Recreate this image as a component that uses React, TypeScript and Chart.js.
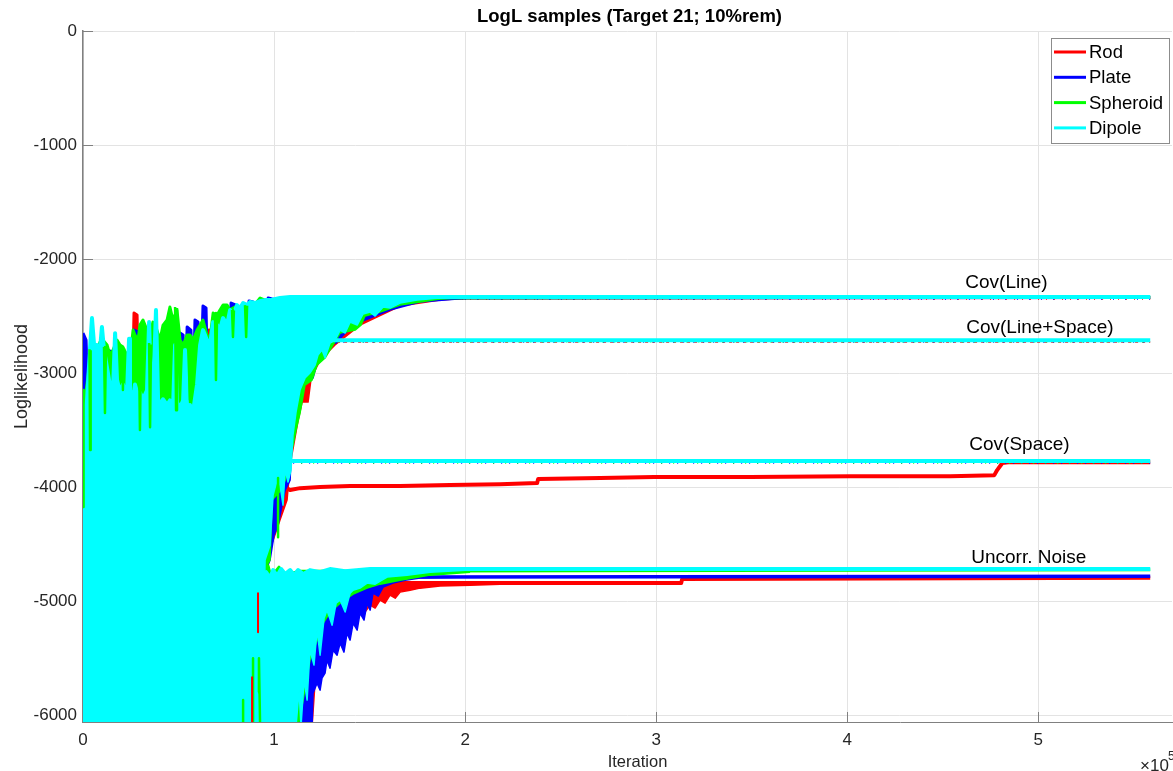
import React, { useEffect, useRef } from 'react';
import { Chart, registerables } from 'chart.js';

Chart.register(...registerables);

// x values are iterations in units of 1e5, y values are log-likelihood
const FONT = "'Liberation Sans', Arial, Helvetica, sans-serif";
const ROD = '#ff0000';
const PLATE = '#0000ff';
const SPHEROID = '#00ff00';
const DIPOLE = '#00ffff';

const legendLabels = ['Rod', 'Plate', 'Spheroid', 'Dipole'];
const xTickValues = [0, 1, 2, 3, 4, 5];
const yTickValues = [-6000, -5000, -4000, -3000, -2000, -1000, 0];
const modelLabels = ['Cov(Line)', 'Cov(Line+Space)', 'Cov(Space)', 'Uncorr. Noise'];
const modelLabelX = [4.618, 4.623, 4.639, 4.649];
const modelLabelY = [-2211, -2605, -3632, -4623];

// ---------- Dipole (cyan) ----------
const dipoleMainX = [0, 0.021, 0.037, 0.047, 0.058, 0.073, 0.089, 0.099, 0.110, 0.141, 0.157, 0.168, 0.178, 0.194, 0.209, 0.230, 0.241, 0.246, 0.262, 0.272, 0.288, 0.298, 0.314, 0.335, 0.346, 0.356, 0.366, 0.382, 0.393, 0.403, 0.419, 0.440, 0.455, 0.471, 0.482, 0.492, 0.508, 0.524, 0.534, 0.545, 0.560, 0.576, 0.597, 0.613, 0.628, 0.649, 0.665, 0.681, 0.702, 0.717, 0.733, 0.754, 0.770, 0.785, 0.806, 0.822, 0.838, 0.859, 0.874, 0.901, 0.927, 0.953, 0.979, 1.031, 1.084, 5.586];
const dipoleMainY = [-3412, -3237, -2781, -2518, -2754, -2754, -2798, -2596, -2798, -3105, -3150, -2650, -3060, -3170, -3100, -3200, -2700, -3150, -3230, -3100, -3200, -3170, -3230, -3150, -2553, -3170, -3240, -2447, -3230, -3280, -3230, -3280, -3240, -3320, -2754, -3260, -3300, -3240, -2798, -3320, -3280, -3340, -3100, -2754, -2623, -2711, -2754, -2553, -2579, -2623, -2518, -2579, -2447, -2500, -2404, -2430, -2386, -2404, -2377, -2386, -2368, -2360, -2360, -2342, -2333, -2333];
const dipoleMainLowX = [0, 0.937, 0.953, 0.979, 0.995, 1.016, 1.031, 1.047, 1.058, 1.073, 1.089, 1.099, 1.115, 1.136, 1.162, 1.188, 1.215, 1.230, 1.251, 1.267, 1.293, 1.319, 1.346, 1.372, 1.398, 1.435, 1.466, 1.503, 1.529, 1.571, 1.607, 1.660, 1.749, 1.869, 2.026];
const dipoleMainLowY = [-6100, -6100, -4640, -4509, -4070, -3939, -3982, -4158, -3851, -3956, -3851, -3544, -3342, -3149, -3044, -3000, -2930, -2842, -2798, -2868, -2737, -2711, -2623, -2649, -2553, -2579, -2482, -2465, -2500, -2421, -2430, -2386, -2360, -2342, -2333];
const dipoleNoiseX = [0.937, 0.958, 0.979, 0.995, 1.016, 1.037, 1.058, 1.084, 1.105, 1.126, 1.152, 1.188, 1.241, 1.293, 1.372, 1.503, 5.586];
const dipoleNoiseY = [-4772, -4746, -4798, -4728, -4781, -4719, -4763, -4728, -4772, -4728, -4763, -4728, -4746, -4719, -4737, -4719, -4719];
const dipoleNoiseLowX = [0.937, 1.115, 1.131, 1.141, 1.157, 1.173, 1.188, 1.209, 1.225, 1.241, 1.262, 1.277, 1.304, 1.325, 1.346, 1.372, 1.398, 1.414, 1.450, 1.487, 1.529, 1.592, 1.696, 1.817, 2.026];
const dipoleNoiseLowY = [-6100, -6100, -5781, -6100, -5693, -5868, -5430, -5561, -5254, -5474, -5149, -5079, -5211, -5018, -4991, -5096, -4930, -4904, -4886, -4842, -4851, -4789, -4772, -4746, -4728];
const dipoleLineSpaceX = [1.300, 5.586];
const dipoleLineSpaceY = [-2711, -2711];
const dipoleSpaceX = [1.094, 5.586];
const dipoleSpaceY = [-3772, -3772];

// ---------- Spheroid (green) ----------
const spheroidMainX = [0, 0.010, 0.037, 0.063, 0.089, 0.105, 0.126, 0.141, 0.157, 0.178, 0.194, 0.209, 0.230, 0.246, 0.262, 0.272, 0.288, 0.298, 0.314, 0.335, 0.351, 0.366, 0.387, 0.403, 0.419, 0.440, 0.455, 0.471, 0.492, 0.508, 0.524, 0.545, 0.560, 0.576, 0.597, 0.613, 0.628, 0.649, 0.665, 0.681, 0.702, 0.717, 0.733, 0.754, 0.770, 0.785, 0.806, 0.822, 0.848, 0.874, 0.901, 0.927, 0.953, 0.979, 1.031, 1.084, 5.586];
const spheroidMainY = [-3149, -3237, -2886, -2842, -2728, -2711, -2754, -2842, -2798, -2711, -2754, -2772, -2842, -2868, -2623, -2667, -2711, -2579, -2535, -2623, -2667, -2553, -2623, -2711, -2579, -2535, -2421, -2535, -2447, -2711, -2754, -2667, -2667, -2711, -2623, -2579, -2535, -2667, -2693, -2474, -2491, -2447, -2404, -2404, -2447, -2430, -2412, -2439, -2412, -2395, -2395, -2342, -2360, -2377, -2351, -2342, -2336];
const spheroidMainLowX = [0, 0.937, 0.948, 0.979, 0.990, 1.037, 1.058, 1.094, 1.115, 1.136, 1.162, 1.199, 1.225, 1.267, 1.346, 1.424, 1.455, 1.476, 1.555, 1.660, 1.869, 2.026];
const spheroidMainLowY = [-6100, -6100, -4728, -4640, -4114, -4026, -3939, -3675, -3500, -3351, -3105, -3061, -2930, -2868, -2649, -2623, -2579, -2500, -2465, -2404, -2351, -2333];
const spheroidNoiseX = [0.937, 0.969, 0.984, 1.026, 1.047, 1.136, 5.586];
const spheroidNoiseY = [-4781, -4693, -4789, -4702, -4772, -4737, -4725];
const spheroidNoiseLowX = [0.937, 1.126, 1.152, 1.188, 1.225, 1.251, 1.293, 1.346, 1.414, 1.487, 1.555, 1.660, 1.817, 2.026];
const spheroidNoiseLowY = [-6100, -6100, -5868, -5518, -5342, -5211, -5096, -5018, -4939, -4886, -4851, -4816, -4772, -4746];
const spheroidLineSpaceX = [1.310, 5.586];
const spheroidLineSpaceY = [-2726, -2726];
const spheroidSpaceX = [1.100, 5.586];
const spheroidSpaceY = [-3788, -3788];
const spheroidStreakX = [0.003, 0.003, 0.003, 0.034, 0.037, 0.040, 0.040, 0.110, 0.115, 0.120, 0.120, 0.205, 0.209, 0.214, 0.214, 0.293, 0.298, 0.304, 0.304, 0.346, 0.351, 0.356, 0.356, 0.408, 0.414, 0.419, 0.419, 0.482, 0.487, 0.492, 0.492, 0.555, 0.560, 0.565, 0.565, 0.691, 0.696, 0.702, 0.702, 0.780, 0.785, 0.790, 0.790, 0.848, 0.854, 0.859, 0.859, 0.838, 0.838, 0.838, 0.890, 0.890, 0.890, 0.916, 0.921, 0.927, 0.927, 1.021, 1.021];
const spheroidStreakY = [-3149, -4175, null, -2790, -3675, -2800, null, -2772, -3351, -2800, null, -2772, -3149, -2780, null, -2772, -3500, -2790, null, -2737, -3474, -2750, null, -2798, -3061, -2800, null, -2421, -3325, -2430, null, -2711, -3237, -2720, null, -2474, -3061, -2480, null, -2447, -2684, -2450, null, -2404, -2684, -2410, null, -5868, -6100, null, -5500, -6100, null, -5800, -5500, -6100, null, -3921, -4439];

// ---------- Plate (blue) ----------
const plateMainX = [0, 0.016, 0.026, 0.120, 0.131, 0.152, 0.162, 0.225, 0.236, 0.251, 0.262, 0.267, 0.293, 0.304, 0.497, 0.508, 0.524, 0.534, 0.545, 0.565, 0.576, 0.586, 0.602, 0.613, 0.628, 0.644, 0.654, 0.764, 0.775, 0.801, 0.812, 0.859, 0.869, 0.890, 0.901, 0.958, 0.969, 0.990, 1.031, 1.084, 5.586];
const plateMainY = [-2649, -2711, -3237, -3237, -2798, -2816, -3237, -3237, -2816, -2842, -3237, -2623, -2640, -3237, -3237, -2649, -2667, -3237, -2596, -2623, -3237, -2535, -2553, -3237, -2412, -2430, -3237, -3237, -2386, -2404, -3237, -3237, -2368, -2377, -3237, -3237, -2342, -2351, -2360, -2342, -2338];
const plateMainLowX = [0, 0.937, 0.948, 0.979, 1.000, 1.021, 1.058, 1.084, 1.094, 1.110, 1.126, 1.162, 1.204, 1.225, 1.293, 1.314, 1.325, 1.372, 1.450, 1.607, 1.764, 2.026];
const plateMainLowY = [-6100, -6100, -4772, -4640, -4421, -4333, -4026, -3939, -3544, -3500, -3193, -3061, -3044, -2912, -2754, -2737, -2737, -2649, -2553, -2447, -2377, -2342];
const plateNoiseX = [0.937, 1.764, 5.586];
const plateNoiseY = [-4816, -4789, -4781];
const plateNoiseLowX = [0.937, 1.199, 1.204, 1.225, 1.241, 1.251, 1.267, 1.277, 1.293, 1.309, 1.330, 1.346, 1.366, 1.382, 1.398, 1.414, 1.435, 1.450, 1.471, 1.487, 1.503, 1.518, 1.545, 1.571, 1.623, 1.686, 1.764, 2.026];
const plateNoiseLowY = [-6100, -6100, -5807, -5719, -5781, -5675, -5632, -5518, -5588, -5430, -5474, -5368, -5447, -5281, -5342, -5193, -5254, -5105, -5167, -5018, -5079, -4930, -4956, -4877, -4842, -4816, -4798, -4789];
const plateLineX = [1.900, 5.586];
const plateLineY = [-2350, -2350];
const plateLineSpaceX = [1.325, 5.586];
const plateLineSpaceY = [-2728, -2728];
const plateSpaceX = [1.100, 5.586];
const plateSpaceY = [-3789, -3789];

// ---------- Rod (red) ----------
const rodMainX = [0, 0.010, 0.026, 0.157, 0.168, 0.183, 0.257, 0.267, 0.283, 0.293, 0.649, 0.660, 0.675, 0.686, 0.874, 0.953, 1.031, 1.084, 5.586];
const rodMainY = [-3237, -2974, -3237, -3237, -2711, -3237, -3237, -2474, -2491, -3237, -3237, -2623, -2640, -3237, -2711, -2535, -2360, -2342, -2338];
const rodMainLowX = [0, 0.937, 0.942, 1.031, 1.068, 1.084, 1.126, 1.147, 1.178, 1.194, 1.241, 1.319, 1.450, 1.660, 1.869, 2.026];
const rodMainLowY = [-6100, -6100, -4728, -4289, -4114, -3807, -3412, -3254, -3254, -3044, -2886, -2754, -2579, -2412, -2360, -2342];
const rodNoiseX = [0.937, 1.660, 3.131, 3.136, 5.586];
const rodNoiseY = [-4833, -4842, -4842, -4807, -4795];
const rodNoiseLowX = [0.937, 1.199, 1.215, 1.251, 1.293, 1.346, 1.398, 1.450, 1.476, 1.503, 1.529, 1.555, 1.581, 1.607, 1.634, 1.660, 1.712, 1.764, 1.869, 2.026, 2.183];
const rodNoiseLowY = [-6100, -6100, -5700, -5600, -5450, -5300, -5250, -5050, -5096, -5035, -5061, -4991, -5018, -4947, -4974, -4921, -4904, -4886, -4868, -4860, -4851];
const rodSpaceX = [1.058, 1.068, 1.084, 1.136, 1.241, 1.398, 1.660, 1.921, 2.183, 2.377, 2.382, 2.707, 2.990, 3.492, 4.016, 4.539, 4.770, 4.785, 4.812, 4.853, 5.586];
const rodSpaceY = [-4053, -4009, -4026, -4009, -4000, -3991, -3991, -3982, -3974, -3965, -3930, -3921, -3912, -3912, -3904, -3904, -3895, -3851, -3789, -3781, -3781];
const rodLineX = [1.900, 5.586];
const rodLineY = [-2351, -2351];
const rodLineSpaceX = [1.330, 5.586];
const rodLineSpaceY = [-2728, -2728];
const rodStreakX = [0.916, 0.916, 0.916, 0.885, 0.885];
const rodStreakY = [-4930, -5272, null, -5667, -6100];

function pts(xs: number[], ys: (number | null)[]) {
  return xs.map((x, i) => ({ x, y: ys[i] }));
}

export default function App() {
  const ref = useRef<HTMLCanvasElement>(null);

  useEffect(() => {
    document.body.style.margin = '0';
    const canvas = ref.current!;
    const datasets: any[] = [];
    const add = (d: any) => {
      datasets.push(d);
      return datasets.length - 1;
    };
    const line = (data: any, color: string, width: number, extra: any = {}) => ({
      data,
      borderColor: color,
      backgroundColor: color,
      borderWidth: width,
      pointRadius: 0,
      pointHoverRadius: 0,
      fill: false,
      tension: 0,
      spanGaps: false,
      borderJoinStyle: 'round',
      borderCapStyle: 'butt',
      ...extra,
    });
    const mass = (tx: number[], ty: number[], lx: number[], ly: number[], color: string, w: number) => {
      const low = add(line(pts(lx, ly), color, 1.5));
      add(line(pts(tx, ty), color, w, { fill: { target: low } }));
    };

    // bottom -> top
    mass(rodMainX, rodMainY, rodMainLowX, rodMainLowY, ROD, 3);
    mass(rodNoiseX, rodNoiseY, rodNoiseLowX, rodNoiseLowY, ROD, 4);
    add(line(pts(rodSpaceX, rodSpaceY), ROD, 4));
    add(line(pts(rodLineX, rodLineY), ROD, 1.5, { borderDash: [1, 7] }));
    add(line(pts(rodLineSpaceX, rodLineSpaceY), ROD, 1.5, { borderDash: [3, 4] }));

    mass(plateMainX, plateMainY, plateMainLowX, plateMainLowY, PLATE, 3);
    mass(plateNoiseX, plateNoiseY, plateNoiseLowX, plateNoiseLowY, PLATE, 3.5);
    add(line(pts(plateLineX, plateLineY), PLATE, 1.5, { borderDash: [1, 11], borderDashOffset: 5 }));
    add(line(pts(plateLineSpaceX, plateLineSpaceY), PLATE, 1.5, { borderDash: [1, 9], borderDashOffset: 3 }));
    add(line(pts(plateSpaceX, plateSpaceY), PLATE, 1.5, { borderDash: [1, 7] }));

    mass(spheroidMainX, spheroidMainY, spheroidMainLowX, spheroidMainLowY, SPHEROID, 3);
    mass(spheroidNoiseX, spheroidNoiseY, spheroidNoiseLowX, spheroidNoiseLowY, SPHEROID, 3);
    add(line(pts(spheroidLineSpaceX, spheroidLineSpaceY), SPHEROID, 1.5, { borderDash: [1, 11], borderDashOffset: 7 }));
    add(line(pts(spheroidSpaceX, spheroidSpaceY), SPHEROID, 1.5, { borderDash: [1, 11], borderDashOffset: 4 }));

    mass(dipoleMainX, dipoleMainY, dipoleMainLowX, dipoleMainLowY, DIPOLE, 4);
    mass(dipoleNoiseX, dipoleNoiseY, dipoleNoiseLowX, dipoleNoiseLowY, DIPOLE, 4);
    add(line(pts(dipoleLineSpaceX, dipoleLineSpaceY), DIPOLE, 4));
    add(line(pts(dipoleSpaceX, dipoleSpaceY), DIPOLE, 4));

    add(line(pts(spheroidStreakX, spheroidStreakY), SPHEROID, 2.5));
    add(line(pts(rodStreakX, rodStreakY), ROD, 2));

    const n = datasets.length;
    datasets.forEach((d, i) => (d.order = n - i));

    const decor = {
      id: 'decor',
      beforeDatasetsDraw(chart: any) {
        const { ctx, chartArea: a, scales } = chart;
        ctx.save();
        ctx.strokeStyle = '#808080';
        ctx.lineWidth = 1;
        yTickValues.forEach((v) => {
          const py = Math.round(scales.y.getPixelForValue(v)) + 0.5;
          ctx.beginPath();
          ctx.moveTo(a.left, py);
          ctx.lineTo(a.left + 10, py);
          ctx.stroke();
        });
        xTickValues.forEach((v) => {
          const px = Math.round(scales.x.getPixelForValue(v)) + 0.5;
          ctx.beginPath();
          ctx.moveTo(px, a.bottom);
          ctx.lineTo(px, a.bottom - 10);
          ctx.stroke();
        });
        ctx.restore();
      },
      afterDraw(chart: any) {
        const { ctx, chartArea: a, scales } = chart;
        ctx.save();
        ctx.fillStyle = '#000';
        // title
        ctx.font = `bold 18.5px ${FONT}`;
        ctx.textAlign = 'center';
        ctx.textBaseline = 'middle';
        ctx.fillText('LogL samples (Target 21; 10%rem)', (a.left + a.right) / 2 + 2, 17);
        // axis labels
        ctx.fillStyle = '#262626';
        ctx.font = `16.5px ${FONT}`;
        ctx.fillText('Iteration', (a.left + a.right) / 2 + 10, 762);
        ctx.font = `18px ${FONT}`;
        ctx.save();
        ctx.translate(22, (a.top + a.bottom) / 2);
        ctx.rotate(-Math.PI / 2);
        ctx.fillText('Loglikelihood', 0, 0);
        ctx.restore();
        // exponent
        ctx.textAlign = 'left';
        ctx.textBaseline = 'top';
        ctx.font = `17px ${FONT}`;
        ctx.fillText('\u00d710', a.right - 32, 758);
        ctx.font = `12px ${FONT}`;
        ctx.fillText('5', a.right - 4, 751);
        // model annotations
        ctx.fillStyle = '#000';
        ctx.font = `19px ${FONT}`;
        ctx.textBaseline = 'middle';
        modelLabels.forEach((t, i) => {
          ctx.fillText(t, scales.x.getPixelForValue(modelLabelX[i]), scales.y.getPixelForValue(modelLabelY[i]));
        });
        // legend
        const colors = [ROD, PLATE, SPHEROID, DIPOLE];
        const bx = a.right - 121;
        const by = a.top + 7;
        ctx.fillStyle = '#fff';
        ctx.fillRect(bx, by, 118, 105);
        ctx.strokeStyle = '#8c8c8c';
        ctx.lineWidth = 1;
        ctx.strokeRect(bx + 0.5, by + 0.5, 118, 105);
        ctx.font = `18.5px ${FONT}`;
        legendLabels.forEach((t, i) => {
          const yy = by + 14 + i * 25.3;
          ctx.strokeStyle = colors[i];
          ctx.lineWidth = 3;
          ctx.beginPath();
          ctx.moveTo(bx + 3, yy);
          ctx.lineTo(bx + 35, yy);
          ctx.stroke();
          ctx.fillStyle = '#000';
          ctx.fillText(t, bx + 38, yy + 1);
        });
        ctx.restore();
      },
    };

    const chart = new Chart(canvas, {
      type: 'line',
      data: { datasets },
      options: {
        responsive: false,
        animation: false,
        events: [],
        layout: { padding: { top: 31, right: 1, left: 0, bottom: 0 } },
        plugins: {
          legend: { display: false },
          tooltip: { enabled: false },
          title: { display: false },
        },
        scales: {
          x: {
            type: 'linear',
            min: 0,
            max: 5.7,
            afterFit: (s: any) => {
              s.height = 49;
            },
            afterBuildTicks: (s: any) => {
              s.ticks = xTickValues.map((v) => ({ value: v }));
            },
            ticks: {
              color: '#262626',
              font: { size: 17, family: FONT },
              padding: 8,
              maxRotation: 0,
              callback: (v: any) => String(v),
            },
            grid: { color: '#e3e3e3', drawTicks: false },
            border: { display: true, color: '#808080', width: 1 },
          },
          y: {
            type: 'linear',
            min: -6060,
            max: 0,
            afterFit: (s: any) => {
              s.width = 83;
            },
            afterBuildTicks: (s: any) => {
              s.ticks = yTickValues.map((v) => ({ value: v }));
            },
            ticks: {
              color: '#262626',
              font: { size: 17, family: FONT },
              padding: 6,
              callback: (v: any) => String(v),
            },
            grid: { color: '#e3e3e3', drawTicks: false },
            border: { display: true, color: '#808080', width: 1.5 },
          },
        },
      },
      plugins: [decor],
    });
    return () => chart.destroy();
  }, []);

  return (
    <div style={{ width: 1173, height: 771, background: '#fff' }}>
      <canvas ref={ref} width={1173} height={771} style={{ display: 'block' }} />
    </div>
  );
}
